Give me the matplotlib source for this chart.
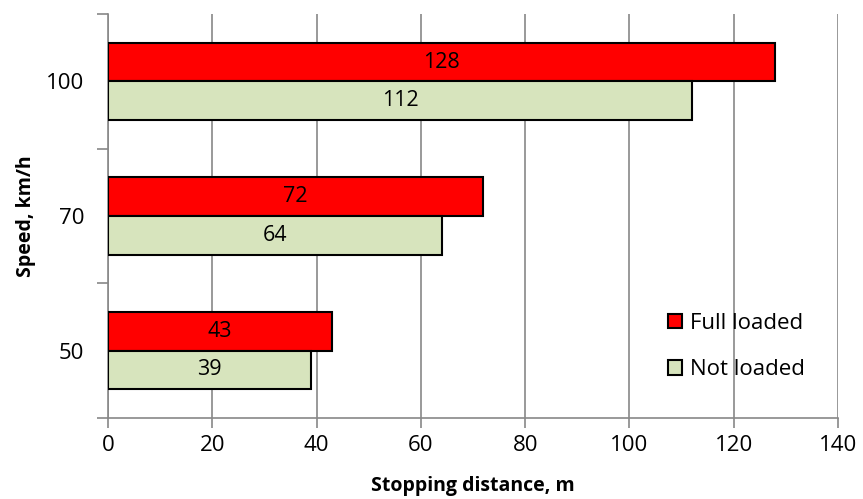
import matplotlib
matplotlib.use("Agg")
import matplotlib.pyplot as plt
import numpy as np

speeds = ["50", "70", "100"]
full_loaded = [43, 72, 128]
not_loaded = [39, 64, 112]
x_ticks = [0, 20, 40, 60, 80, 100, 120, 140]

plt.rcParams['font.family'] = ['Open Sans', 'DejaVu Sans']

fig = plt.figure(figsize=(8.63, 4.99), dpi=100)
ax = fig.add_axes([108 / 863, 1 - 418 / 499, 730 / 863, 404 / 499])

grid_c = "#888888"
y = np.arange(len(speeds))
h = 0.286

ax.barh(y + h / 2, full_loaded, height=h, color="#FF0000", edgecolor="black",
        linewidth=1.5, label="Full loaded", zorder=3)
ax.barh(y - h / 2, not_loaded, height=h, color="#D7E4BD", edgecolor="black",
        linewidth=1.5, label="Not loaded", zorder=3)

for yi, v in zip(y, full_loaded):
    ax.text(v / 2, yi + h / 2, str(v), ha="center", va="center", fontsize=15.5, zorder=4)
for yi, v in zip(y, not_loaded):
    ax.text(v / 2, yi - h / 2, str(v), ha="center", va="center", fontsize=15.5, zorder=4)

ax.set_xlim(0, 140)
ax.set_ylim(-0.5, len(speeds) - 0.5)
ax.set_xticks(x_ticks)
ax.set_yticks(y)
ax.set_yticklabels(speeds)
ax.set_yticks(np.arange(-0.5, len(speeds)), minor=True)

ax.grid(axis="x", color=grid_c, linewidth=1.2, zorder=0)
for s in ["top", "right"]:
    ax.spines[s].set_visible(False)
for s in ["left", "bottom"]:
    ax.spines[s].set_color(grid_c)
    ax.spines[s].set_linewidth(1.2)

ax.tick_params(axis="x", length=7, width=1.2, color=grid_c, labelsize=16, pad=5)
ax.tick_params(axis="y", which="major", length=0, labelsize=16, pad=17)
ax.tick_params(axis="y", which="minor", length=8, width=1.2, color=grid_c)

ax.set_xlabel("Stopping distance, m", fontsize=14, fontweight="bold", labelpad=15)
ax.set_ylabel("Speed, km/h", fontsize=14, fontweight="bold", labelpad=7)

ax.legend(loc="upper left", bbox_to_anchor=(0.74, 0.31), frameon=False, fontsize=16,
          handlelength=0.6, handleheight=0.6, handletextpad=0.4, labelspacing=1.15)

fig.savefig("out.png", dpi=100)
